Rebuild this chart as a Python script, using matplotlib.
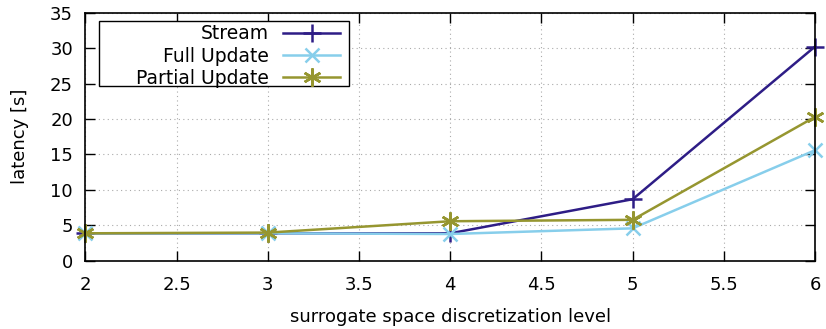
import matplotlib.pyplot as plt
from matplotlib.patches import Rectangle

levels = [2, 3, 4, 5, 6]
stream = [3.9, 3.9, 3.9, 8.7, 30.2]
full_update = [3.9, 3.9, 3.8, 4.6, 15.6]
partial_update = [3.9, 4.0, 5.6, 5.8, 20.3]

fig = plt.figure(figsize=(8.26, 3.29), dpi=100)
ax = fig.add_axes([0.1035, 0.2067, 0.8832, 0.7553])

ax.plot(levels, stream, color='#2e1d86', lw=1.8, marker='+', ms=13, mew=1.8, label='Stream', clip_on=False)
ax.plot(levels, full_update, color='#87ceeb', lw=1.8, marker='x', ms=10, mew=1.8, label='Full Update', clip_on=False)
ax.plot(levels, partial_update, color='#969630', lw=1.8, marker=(6, 2, 0), ms=13, mew=1.8,
        label='Partial Update', clip_on=False)

ax.set_xlim(2, 6)
ax.set_ylim(0, 35)
ax.set_xticks([2, 2.5, 3, 3.5, 4, 4.5, 5, 5.5, 6])
ax.set_xticklabels(['2', '2.5', '3', '3.5', '4', '4.5', '5', '5.5', '6'])
ax.set_yticks(range(0, 36, 5))
ax.tick_params(direction='in', top=True, right=True, length=7, width=1, labelsize=13)
ax.tick_params(axis='x', pad=11)
ax.tick_params(axis='y', pad=9)
ax.grid(True, linestyle=(0, (1, 3)), color='#aaaaaa', lw=0.8)
for s in ax.spines.values():
    s.set_linewidth(1.2)

ax.set_xlabel('surrogate space discretization level', fontsize=13, labelpad=10)
ax.set_ylabel('latency [s]', fontsize=13, labelpad=15)

# legend box drawn separately (gnuplot-like wide box)
box = Rectangle((0.0185, 0.704), 0.3428, 0.262, transform=ax.transAxes, facecolor='white',
                edgecolor='black', lw=1.0, zorder=5)
ax.add_patch(box)
leg = ax.legend(loc='upper right', bbox_to_anchor=(0.351, 0.96), markerfirst=False, fontsize=13.5,
                frameon=False, handlelength=3.0, borderpad=0.1, labelspacing=0.17,
                handletextpad=0.75, borderaxespad=0)
leg.set_zorder(6)
for t in leg.get_texts():
    t.set_ha('right')
leg._legend_box.align = 'right'

fig.savefig('out.png', dpi=100)
